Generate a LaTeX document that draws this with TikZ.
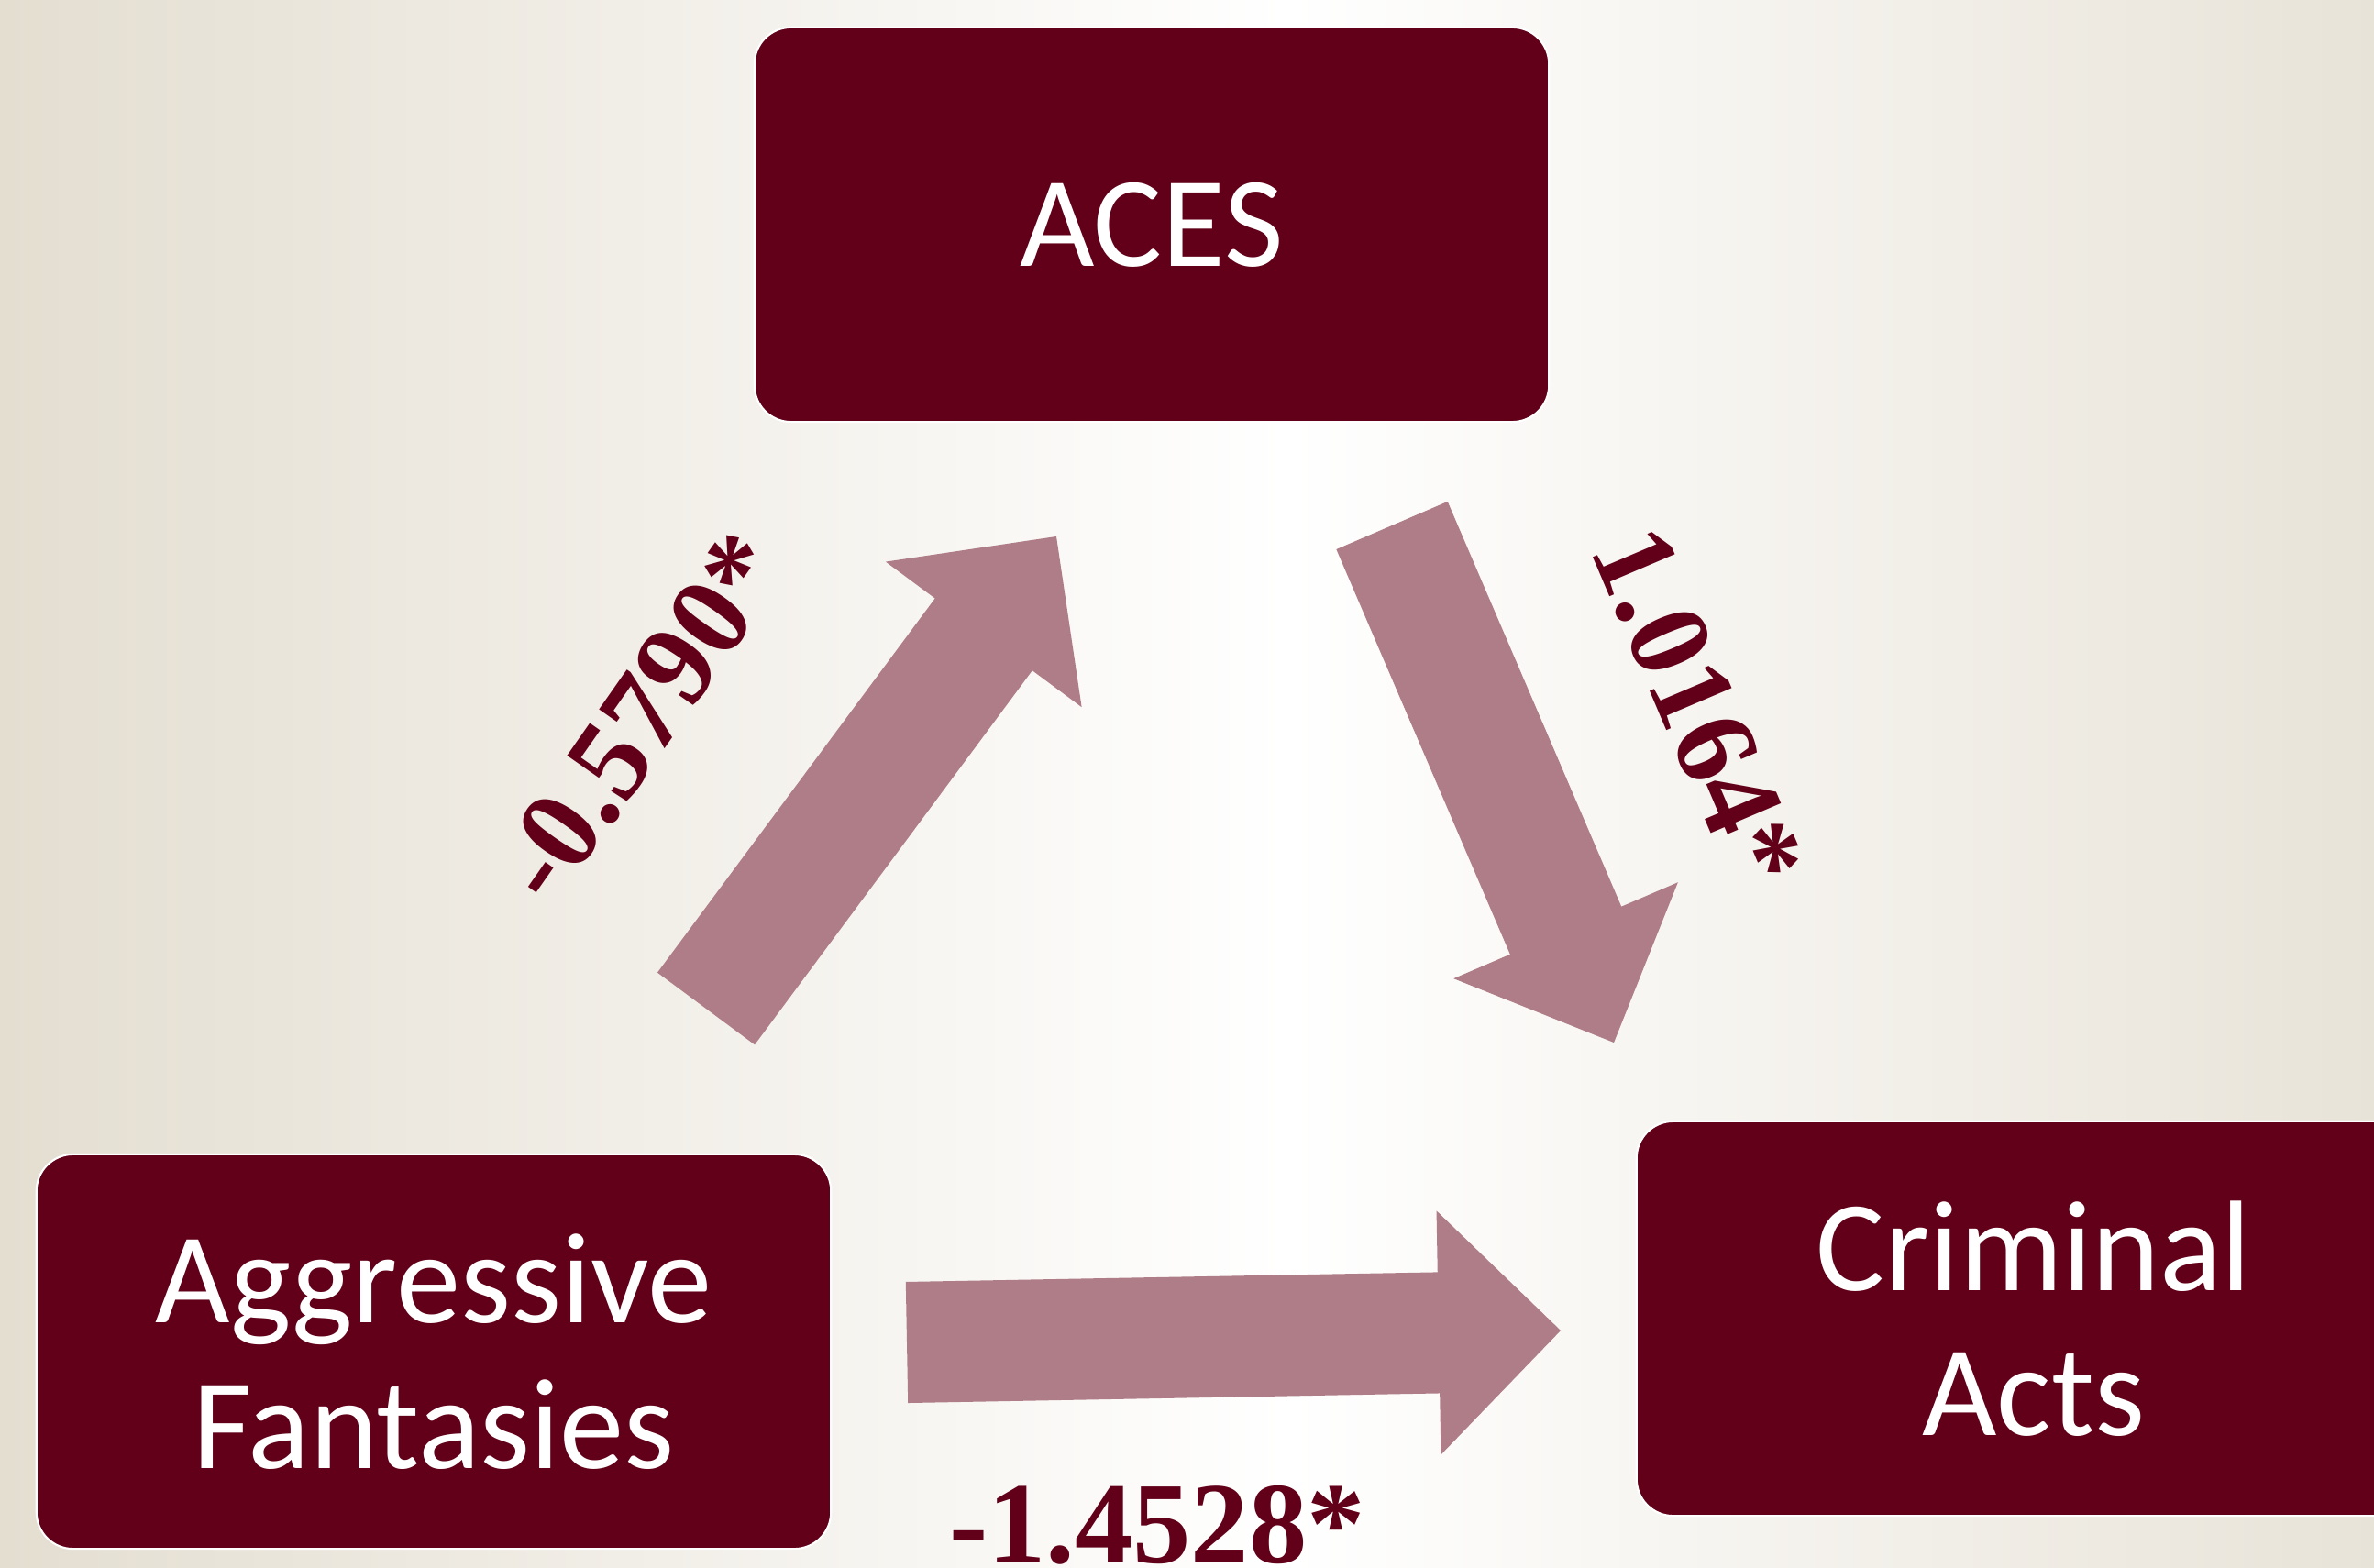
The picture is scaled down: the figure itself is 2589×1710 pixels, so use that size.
\documentclass[tikz,border=0pt]{standalone}
\usepackage{fontspec}
\newfontfamily\boxfont{Carlito}
\newfontfamily\coeffont{Liberation Serif}
\usepackage{xcolor}
\usetikzlibrary{calc}
\definecolor{boxred}{RGB}{97,0,24}
\definecolor{rosy}{RGB}{175,125,135}
\definecolor{beige}{RGB}{228,222,209}
\tikzset{
  box/.style={fill=boxred, draw=white, line width=0.6pt, rounded corners=0.4cm,
    minimum width=8.66cm, minimum height=4.3cm, inner sep=0pt, text=white,
    align=center, font=\boxfont\fontsize{40}{45}\selectfont},
  coef/.style={text=boxred, inner sep=0pt, font=\coeffont\bfseries\fontsize{36}{40}\selectfont}
}
% block arrow from #1 to #2 (shaft 1.32cm, head 2.66cm wide, 1.33cm long)
\newcommand{\fatarrow}[2]{%
  \coordinate (hb) at ($(#2)!1.33cm!(#1)$);
  \fill[rosy] ($(#1)!0.66cm!90:(#2)$) -- ($(hb)!0.66cm!90:(#2)$)
    -- ($(hb)!1.33cm!90:(#2)$) -- (#2) -- ($(hb)!1.33cm!-90:(#2)$)
    -- ($(hb)!0.66cm!-90:(#2)$) -- ($(#1)!0.66cm!-90:(#2)$) -- cycle;}

\begin{document}
\begin{tikzpicture}[x=0.01cm, y=-0.01cm]
\useasboundingbox (0,0) rectangle (2589,1710);
% background
\begin{scope}
\clip (0,0) rectangle (2589,1710);
\shade[left color=beige, right color=beige, middle color=white] (0,0) rectangle (2808,1710);
\end{scope}
% boxes
\node[box] (aces) at (1256,245) {ACES};
\node[box] (fant) at (473,1474) {Aggressive\\Fantasies};
\node[box] (crim) at (2218,1438) {Criminal\\Acts};
% arrow ends
\coordinate (fantUp) at (770,1100);
\coordinate (acesIn) at (1152,585);
\coordinate (acesOut) at (1518,573);
\coordinate (crimIn) at (1760,1137);
\coordinate (fantRight) at (989,1464);
\coordinate (crimLeft) at (1702,1451);
\fatarrow{fantUp}{acesIn}
\fatarrow{acesOut}{crimIn}
\fatarrow{fantRight}{crimLeft}
% coefficients
\node[coef, rotate=55] (coefA) at (699,782) {-0.5790*};
\node[coef, rotate=-67] (coefB) at (1852,772) {1.0164*};
\node[coef, anchor=base] (coefC) at (1262,1704) {-1.4528*};
\end{tikzpicture}
\end{document}
